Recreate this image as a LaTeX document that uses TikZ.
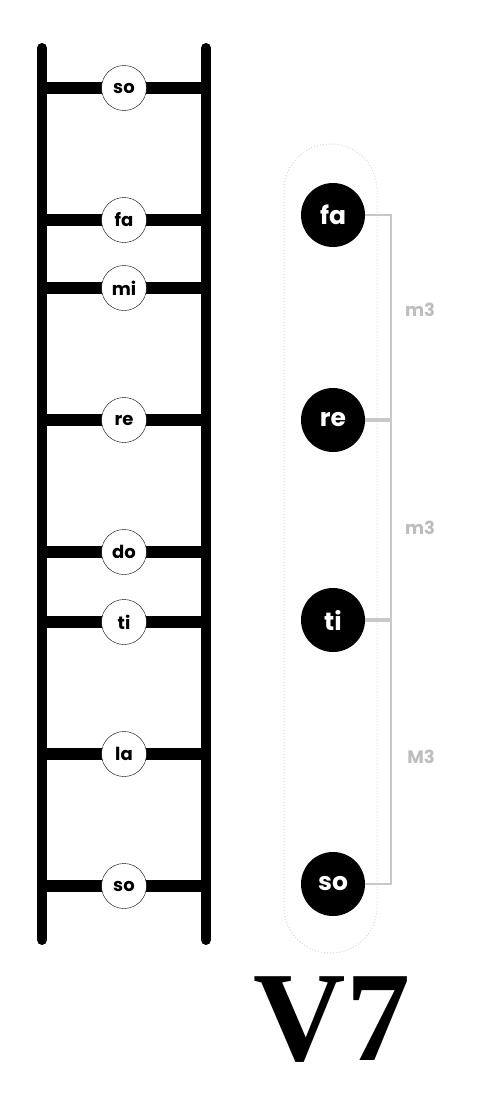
\documentclass[tikz,border=0pt]{standalone}
\usepackage{fontspec}
\setmainfont{Poppins}
\newfontfamily\chordfont{Liberation Serif}
\usetikzlibrary{backgrounds}
\definecolor{bracketgray}{HTML}{C8C8C8}
\definecolor{labelgray}{HTML}{BDBDBD}
\definecolor{pillgray}{HTML}{D6D6D6}

\begin{document}
\begin{tikzpicture}[x=1pt, y=-1pt,
                    rail/.style={line width=10pt, line cap=round},
                    rung/.style={line width=12pt},
                    degree/.style={circle, draw, thin, fill=white, minimum size=45pt, inner sep=0pt,
                                   font=\fontsize{18}{18}\selectfont\bfseries},
                    tone/.style={circle, fill=black, text=white, minimum size=64pt, inner sep=0pt,
                                 font=\fontsize{25}{25}\selectfont\bfseries},
                    interval/.style={draw=bracketgray, line width=2.5pt},
                    ivlabel/.style={text=labelgray, font=\fontsize{18}{18}\selectfont\bfseries}
]
\useasboundingbox (0,0) rectangle (490,1116);

% ladder
\coordinate (railL top) at (42,48);
\coordinate (railL bot) at (42,940);
\coordinate (railR top) at (206,48);
\coordinate (railR bot) at (206,940);
%
\node [degree] at (124,88) (so2) {so};
\node [degree] at (124,220) (fa1) {fa};
\node [degree] at (124,288) (mi1) {mi};
\node [degree] at (124,420) (re1) {re};
\node [degree] at (124,552) (do1) {do};
\node [degree] at (124,622) (ti1) {ti};
\node [degree] at (124,754) (la1) {la};
\node [degree] at (124,886) (so1) {so};
%
\begin{scope}[on background layer]
\draw [rail] (railL top) -- (railL bot);
\draw [rail] (railR top) -- (railR bot);
\draw [rung] (railL top |- so2) -- (railR top |- so2);
\draw [rung] (railL top |- fa1) -- (railR top |- fa1);
\draw [rung] (railL top |- mi1) -- (railR top |- mi1);
\draw [rung] (railL top |- re1) -- (railR top |- re1);
\draw [rung] (railL top |- do1) -- (railR top |- do1);
\draw [rung] (railL top |- ti1) -- (railR top |- ti1);
\draw [rung] (railL top |- la1) -- (railR top |- la1);
\draw [rung] (railL top |- so1) -- (railR top |- so1);
\end{scope}

% chord tones
\draw [pillgray, dotted, line width=1pt, rounded corners=46pt] (284,144) rectangle (377,953);
\node [tone] at (333,215) (fa2) {fa};
\node [tone] at (333,420) (re2) {re};
\node [tone] at (333,620) (ti2) {ti};
\node [tone] at (333,884) (so3) {so};
%
\coordinate (bracket) at (391,0);
\draw [interval] (fa2.east) -- (bracket |- fa2) -- (bracket |- so3) -- (so3.east);
\draw [interval, line width=4pt] (re2.east) -- (bracket |- re2);
\draw [interval, line width=4pt] (ti2.east) -- (bracket |- ti2);
%
\node [ivlabel] at (420,310) (iv1) {m3};
\node [ivlabel] at (420,528) (iv2) {m3};
\node [ivlabel] at (421,757) (iv3) {M3};

% chord name
\node [font=\chordfont\fontsize{128}{128}\selectfont\bfseries] at (332,1020) (chord) {V7};
\end{tikzpicture}
\end{document}
